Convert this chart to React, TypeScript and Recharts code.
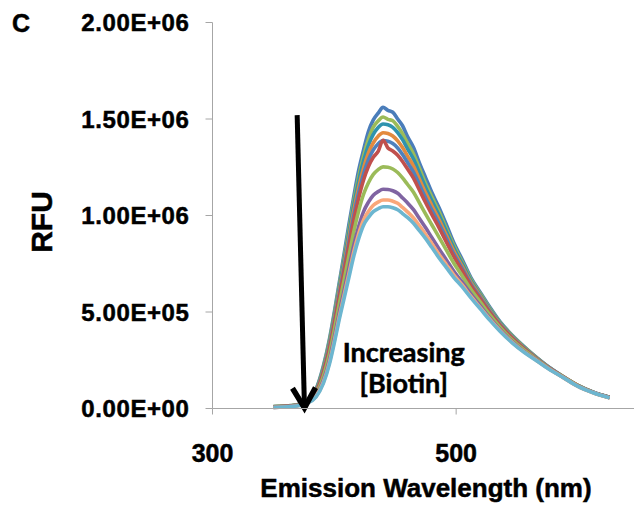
import React from 'react';
import { LineChart, Line, XAxis, YAxis, ReferenceLine, ReferenceDot } from 'recharts';

const wavelengths = [350, 365, 378, 385, 391, 396, 400, 404, 408, 412, 416, 420, 424, 428, 432, 436, 440, 444, 448, 452, 456, 460, 465, 470, 475, 480, 486, 492, 498, 505, 512, 520, 528, 536, 546, 556, 566, 576, 588, 600, 612, 626];

// RFU values in millions
const s1 = [0.010, 0.015, 0.040, 0.100, 0.220, 0.360, 0.500, 0.650, 0.800, 0.955, 1.100, 1.235, 1.340, 1.435, 1.495, 1.530, 1.560, 1.545, 1.535, 1.500, 1.465, 1.410, 1.352, 1.270, 1.195, 1.120, 1.040, 0.952, 0.860, 0.772, 0.680, 0.600, 0.522, 0.450, 0.380, 0.320, 0.265, 0.215, 0.165, 0.120, 0.086, 0.058];
const s2 = [0.010, 0.015, 0.039, 0.097, 0.213, 0.350, 0.487, 0.635, 0.782, 0.928, 1.075, 1.202, 1.309, 1.395, 1.458, 1.490, 1.510, 1.498, 1.491, 1.462, 1.424, 1.376, 1.319, 1.242, 1.165, 1.097, 1.019, 0.932, 0.846, 0.759, 0.672, 0.593, 0.515, 0.446, 0.377, 0.318, 0.264, 0.214, 0.165, 0.120, 0.086, 0.058];
const s3 = [0.009, 0.014, 0.038, 0.094, 0.207, 0.341, 0.476, 0.622, 0.766, 0.910, 1.054, 1.178, 1.282, 1.364, 1.420, 1.456, 1.474, 1.470, 1.457, 1.430, 1.393, 1.347, 1.292, 1.218, 1.144, 1.077, 1.001, 0.917, 0.833, 0.749, 0.664, 0.587, 0.510, 0.443, 0.374, 0.316, 0.262, 0.214, 0.164, 0.119, 0.086, 0.058];
const s4 = [0.009, 0.014, 0.037, 0.090, 0.198, 0.329, 0.462, 0.604, 0.745, 0.885, 1.026, 1.146, 1.246, 1.324, 1.377, 1.411, 1.429, 1.425, 1.412, 1.387, 1.352, 1.309, 1.256, 1.186, 1.116, 1.052, 0.978, 0.897, 0.817, 0.736, 0.655, 0.580, 0.504, 0.438, 0.370, 0.313, 0.261, 0.213, 0.164, 0.119, 0.085, 0.057];
const s5 = [0.008, 0.013, 0.036, 0.087, 0.191, 0.318, 0.449, 0.589, 0.726, 0.864, 1.001, 1.118, 1.215, 1.289, 1.340, 1.372, 1.388, 1.385, 1.373, 1.350, 1.316, 1.276, 1.225, 1.158, 1.091, 1.029, 0.957, 0.880, 0.802, 0.725, 0.646, 0.573, 0.499, 0.434, 0.367, 0.310, 0.260, 0.212, 0.163, 0.118, 0.085, 0.057];
const s6 = [0.008, 0.013, 0.035, 0.084, 0.184, 0.308, 0.436, 0.574, 0.708, 0.842, 0.976, 1.090, 1.184, 1.254, 1.302, 1.332, 1.390, 1.350, 1.334, 1.312, 1.280, 1.242, 1.194, 1.130, 1.066, 1.006, 0.936, 0.862, 0.788, 0.714, 0.638, 0.566, 0.494, 0.430, 0.364, 0.308, 0.258, 0.211, 0.163, 0.118, 0.085, 0.057];
const s7 = [0.007, 0.012, 0.033, 0.076, 0.167, 0.283, 0.406, 0.538, 0.664, 0.791, 0.917, 1.024, 1.110, 1.170, 1.213, 1.238, 1.252, 1.250, 1.241, 1.223, 1.195, 1.162, 1.120, 1.064, 1.007, 0.952, 0.887, 0.820, 0.754, 0.687, 0.618, 0.550, 0.482, 0.421, 0.356, 0.302, 0.255, 0.209, 0.162, 0.117, 0.084, 0.056];
const s8 = [0.006, 0.011, 0.030, 0.067, 0.146, 0.253, 0.369, 0.494, 0.611, 0.729, 0.846, 0.943, 1.020, 1.069, 1.105, 1.124, 1.136, 1.135, 1.128, 1.115, 1.091, 1.066, 1.030, 0.983, 0.936, 0.886, 0.827, 0.770, 0.712, 0.655, 0.594, 0.530, 0.467, 0.409, 0.347, 0.295, 0.251, 0.207, 0.161, 0.116, 0.084, 0.056];
const s9 = [0.005, 0.010, 0.029, 0.063, 0.136, 0.239, 0.351, 0.473, 0.586, 0.699, 0.812, 0.905, 0.977, 1.021, 1.053, 1.070, 1.080, 1.080, 1.074, 1.063, 1.042, 1.019, 0.987, 0.945, 0.902, 0.855, 0.798, 0.745, 0.693, 0.640, 0.582, 0.521, 0.460, 0.404, 0.343, 0.292, 0.249, 0.206, 0.160, 0.115, 0.083, 0.055];
const s10 = [0.005, 0.010, 0.028, 0.060, 0.130, 0.230, 0.340, 0.460, 0.570, 0.680, 0.790, 0.880, 0.950, 0.990, 1.020, 1.035, 1.045, 1.045, 1.040, 1.030, 1.010, 0.990, 0.960, 0.920, 0.880, 0.835, 0.780, 0.730, 0.680, 0.630, 0.575, 0.515, 0.455, 0.400, 0.340, 0.290, 0.248, 0.205, 0.160, 0.115, 0.083, 0.055];

const seriesList = [
  { key: 's1', values: s1, color: '#4A7DBA' },
  { key: 's2', values: s2, color: '#9BBB59' },
  { key: 's3', values: s3, color: '#2F93AE' },
  { key: 's4', values: s4, color: '#E38A3E' },
  { key: 's5', values: s5, color: '#4F81BD' },
  { key: 's6', values: s6, color: '#C0504D' },
  { key: 's7', values: s7, color: '#9BBB59' },
  { key: 's8', values: s8, color: '#8064A2' },
  { key: 's9', values: s9, color: '#F9A77A' },
  { key: 's10', values: s10, color: '#6CB6D0' },
];

const SCALE = 1e6;
const xTicks = [300, 500];
const yTicks = [0, 500000, 1000000, 1500000, 2000000];

const data = wavelengths.map((w, i) => {
  const row: any = { w };
  seriesList.forEach((s) => {
    row[s.key] = s.values[i] * SCALE;
  });
  return row;
});

function fmtSci(v: number): string {
  if (v === 0) return '0.00E+00';
  const e = Math.floor(Math.log10(Math.abs(v)));
  const m = v / Math.pow(10, e);
  return m.toFixed(2) + 'E' + (e >= 0 ? '+' : '-') + String(Math.abs(e)).padStart(2, '0');
}

const FONT = "'Liberation Sans', Arial, sans-serif";
const AXIS_GRAY = '#A6A6A6';

const Arrow = (p: any) => {
  const { x1, y1, x2, y2 } = p;
  const dx = x2 - x1;
  const dy = y2 - y1;
  const len = Math.sqrt(dx * dx + dy * dy) || 1;
  const ux = dx / len;
  const uy = dy / len;
  const nx = -uy;
  const ny = ux;
  const back = 20;
  const half = 11.5;
  const a1x = x2 - back * ux + half * nx;
  const a1y = y2 - back * uy + half * ny;
  const a2x = x2 - back * ux - half * nx;
  const a2y = y2 - back * uy - half * ny;
  return (
    <g>
      <line x1={x1} y1={y1} x2={x2 - 2 * ux} y2={y2 - 2 * uy} stroke="#000" strokeWidth={5} />
      <polyline points={`${a1x},${a1y} ${x2},${y2} ${a2x},${a2y}`} fill="none" stroke="#000" strokeWidth={5.5} strokeLinejoin="miter" />
    </g>
  );
};

const Annotation = (p: any) => {
  const { cx, cy } = p;
  return (
    <text x={cx} y={cy} textAnchor="middle" fontFamily="Lato, 'Open Sans', sans-serif" fontWeight={700} fontSize={27} fill="#000" stroke="#000" strokeWidth={0.5}>
      <tspan x={cx}>Increasing</tspan>
      <tspan x={cx} dy={31}>[Biotin]</tspan>
    </text>
  );
};

export default function App() {
  return (
    <div style={{ position: 'absolute', left: 0, top: 0, width: 634, height: 506, background: '#fff' }}>
      <LineChart
        width={634}
        height={506}
        data={data}
        margin={{ top: 22.5, right: 0, bottom: 0, left: 0 }}
      >
        <XAxis
          dataKey="w"
          type="number"
          domain={[300, 646]}
          ticks={xTicks}
          allowDataOverflow
          height={97.5}
          axisLine={{ stroke: AXIS_GRAY }}
          tickLine={{ stroke: AXIS_GRAY }}
          tickSize={6}
          tickMargin={30}
          tick={{ fill: '#000', fontSize: 25, fontWeight: 700, fontFamily: FONT, stroke: '#000', strokeWidth: 0.5 }}
        />
        <YAxis
          type="number"
          domain={[0, 2000000]}
          ticks={yTicks}
          width={212.5}
          axisLine={{ stroke: AXIS_GRAY }}
          tickLine={{ stroke: AXIS_GRAY }}
          tickSize={7}
          tickMargin={16}
          tickFormatter={fmtSci}
          tick={{ fill: '#000', fontSize: 24, fontWeight: 700, fontFamily: FONT, letterSpacing: 0.6, stroke: '#000', strokeWidth: 0.5 }}
        />
        {seriesList.map((s) => (
          <Line
            key={s.key}
            dataKey={s.key}
            stroke={s.color}
            strokeWidth={3.6}
            dot={false}
            type="monotone"
            strokeLinejoin="round"
            isAnimationActive={false}
          />
        ))}
        <ReferenceLine
          segment={[{ x: 369.5, y: 1520000 }, { x: 375.5, y: 3000 }]}
          stroke="#000"
          shape={(p: any) => <Arrow {...p} />}
        />
        <ReferenceDot x={457} y={241000} r={0} shape={(p: any) => <Annotation {...p} />} />
      </LineChart>
      <svg width={634} height={506} style={{ position: 'absolute', left: 0, top: 0, pointerEvents: 'none' }}>
        <text x={12} y={32} fontFamily={FONT} fontWeight={700} fontSize={25} fill="#000" stroke="#000" strokeWidth={0.5}>C</text>
        <text
          x={0}
          y={0}
          transform="translate(52,222) rotate(-90)"
          textAnchor="middle"
          fontFamily={FONT}
          fontWeight={700}
          fontSize={30}
          fill="#000"
          stroke="#000"
          strokeWidth={0.5}
        >
          RFU
        </text>
        <text x={426} y={497} textAnchor="middle" fontFamily={FONT} fontWeight={700} fontSize={26} fill="#000" stroke="#000" strokeWidth={0.5}>
          Emission Wavelength (nm)
        </text>
      </svg>
    </div>
  );
}
